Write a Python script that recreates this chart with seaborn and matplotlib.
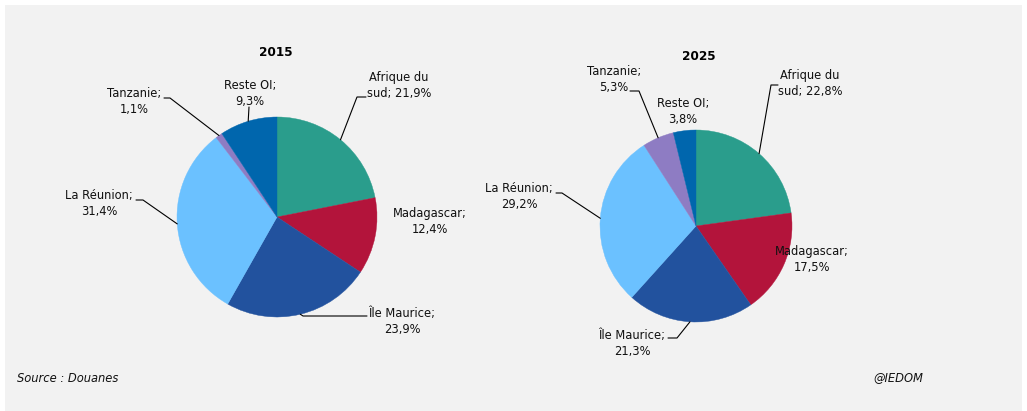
# Exports by destination (share of total), 2015 vs 2025 - two pies side by side

import numpy as np
import matplotlib
matplotlib.use("Agg")
import matplotlib.pyplot as plt
from matplotlib.patches import Rectangle
import seaborn as sns

# data
categories = ["Afrique du sud", "Madagascar", "Île Maurice", "La Réunion", "Tanzanie", "Reste OI"]
shares_2015 = [21.9, 12.4, 23.9, 31.4, 1.1, 9.3]
shares_2025 = [22.8, 17.5, 21.3, 29.2, 5.3, 3.8]
slice_colors = ["#2A9D8C", "#B3143B", "#22529E", "#6BC1FF", "#8E7CC3", "#0066AD"]
years = ["2015", "2025"]

W, H = 1027, 411

# layout in pixels (y measured from the top)
pies = [
    dict(year="2015", values=shares_2015, center=(277, 217), radius=100, title_xy=(276, 52),
         text_xy=[(399, 86), (430, 222), (402, 321), (99, 204), (134, 101), (250, 94)],
         leaders=[((357, 97), (366, 97)), None, ((303, 316), (367, 316)),
                  ((143, 200), (136, 200)), ((170, 98), (164, 98)), ((249, 107), (249, 107))]),
    dict(year="2025", values=shares_2025, center=(696, 226), radius=96, title_xy=(699, 57),
         text_xy=[(810, 83), (812, 259), (632, 343), (519, 197), (614, 79), (683, 112)],
         leaders=[((771, 85), (778, 85)), None, ((677, 338), (668, 338)),
                  ((562, 193), (556, 193)), ((639, 91), (630, 91)), None]),
]


def make_label(name, value):
    pct = f"{value:.1f}".replace(".", ",")
    if name == "Afrique du sud":
        return f"Afrique du\nsud; {pct}%"
    return f"{name};\n{pct}%"


sns.set_theme(style="white")
plt.rcParams["font.family"] = ["DejaVu Sans"]

fig = plt.figure(figsize=(W / 100, H / 100), dpi=100)
fig.patch.set_facecolor("white")

ax = fig.add_axes([0, 0, 1, 1])
ax.set_facecolor("none")
# grey panel behind everything
ax.add_patch(Rectangle((5, 0), 1017, 406, facecolor="#F2F2F2", edgecolor="none", zorder=-10))

for p in pies:
    cx, cy = p["center"]
    r = p["radius"]
    wedges, _ = ax.pie(p["values"], colors=slice_colors, startangle=90, counterclock=False,
                       center=(cx, H - cy), radius=r, wedgeprops=dict(linewidth=0.3))
    for w in wedges:
        w.set_edgecolor(w.get_facecolor())
    ax.text(p["title_xy"][0], H - p["title_xy"][1], p["year"], ha="center", va="center",
            fontsize=8.7, fontweight="bold", color="black")

    for i, w in enumerate(wedges):
        tx, ty = p["text_xy"][i]
        ax.text(tx, H - ty, make_label(categories[i], p["values"][i]), ha="center", va="center",
                fontsize=8.3, linespacing=1.3, color="#111111", zorder=5)
        lead = p["leaders"][i]
        if lead is None:
            continue
        mid = np.deg2rad((w.theta1 + w.theta2) / 2)
        sx = cx + r * np.cos(mid)
        sy = (H - cy) + r * np.sin(mid)
        (ex, ey), (fx, fy) = lead
        ax.plot([sx, ex, fx], [sy, H - ey, H - fy], color="black", lw=0.8, zorder=4)

ax.text(17, H - 378, "Source : Douanes", ha="left", va="center", fontsize=8.3,
        fontstyle="italic", color="#111111")
ax.text(873, H - 378, "@IEDOM", ha="left", va="center", fontsize=8.3,
        fontstyle="italic", color="#111111")

ax.set_xlim(0, W)
ax.set_ylim(0, H)
ax.set_aspect("equal")
ax.axis("off")

fig.savefig("out.png", dpi=100)
